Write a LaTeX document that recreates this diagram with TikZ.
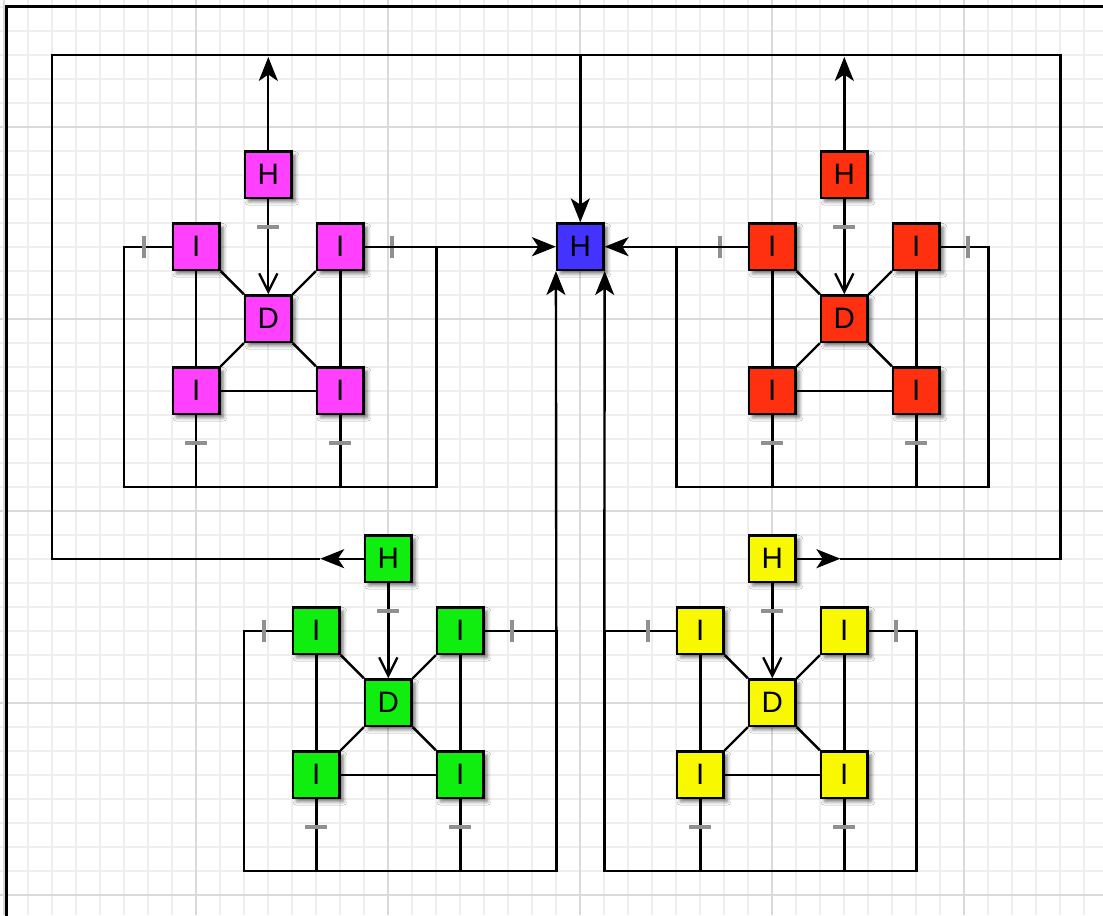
\documentclass[tikz,border=0pt]{standalone}
\usepackage{fontspec}
\setmainfont{Liberation Sans}
\usetikzlibrary{arrows.meta,shadows.blur}

\definecolor{cmag}{HTML}{FF40FF}
\definecolor{cred}{HTML}{FF3010}
\definecolor{cgreen}{HTML}{10EE10}
\definecolor{cyellow}{HTML}{F8F800}
\definecolor{cblue}{HTML}{4433FF}
\definecolor{gminor}{HTML}{EEEEEE}
\definecolor{gmajor}{HTML}{DADADA}
\definecolor{tickc}{HTML}{909090}

% #1 prefix, #2 xc, #3 yH, #4 colour, #5 frame left x, #6 frame right x
\newcommand\clusterdraw[6]{%
  \node[box, fill=#4] (#1H) at (#2,#3) {H};
  \node[box, fill=#4] (#1D) at (#2,#3+144) {D};
  \node[box, fill=#4] (#1a) at (#2-72,#3+72) {I};
  \node[box, fill=#4] (#1b) at (#2+72,#3+72) {I};
  \node[box, fill=#4] (#1c) at (#2-72,#3+216) {I};
  \node[box, fill=#4] (#1d) at (#2+72,#3+216) {I};
  \coordinate (#1tl) at (#5,#3+72);
  \coordinate (#1tr) at (#6,#3+72);
  \coordinate (#1bl) at (#5,#3+312);
  \coordinate (#1br) at (#6,#3+312);
  \draw[wire] (#1a) -- (#1D);
  \draw[wire] (#1b) -- (#1D);
  \draw[wire] (#1c) -- (#1D);
  \draw[wire] (#1d) -- (#1D);
  \draw[wire] (#1a) -- (#1c);
  \draw[wire] (#1b) -- (#1d);
  \draw[wire] (#1c) -- (#1d);
  \draw[wire] (#1a.west) -- (#1tl) -- (#1bl) -- (#1br) -- (#1tr) -- (#1b.east);
  \draw[wire] (#1c.south) -- (#1c.south |- #1bl);
  \draw[wire] (#1d.south) -- (#1d.south |- #1br);
  \draw[varrow] (#1H.south) -- (#1D.north);
  % multiplicity ticks
  \draw[tickmark] (#2-11,#3+52) -- (#2+11,#3+52);
  \draw[tickmark] (#2-83,#3+268) -- (#2-61,#3+268);
  \draw[tickmark] (#2+61,#3+268) -- (#2+83,#3+268);
  \draw[tickmark] (#2-124,#3+61) -- (#2-124,#3+83);
  \draw[tickmark] (#2+124,#3+61) -- (#2+124,#3+83);
}

\begin{document}
\begin{tikzpicture}[x=0.025cm,y=-0.025cm,
  box/.style={draw=black, line width=1.7pt, minimum size=1.16cm, inner sep=0pt,
    font=\fontsize{21}{21}\selectfont,
    blur shadow={shadow xshift=2.6pt, shadow yshift=-2.6pt, shadow blur radius=2.6pt, shadow opacity=55}},
  wire/.style={line width=1.7pt, draw=black},
  tickmark/.style={line width=3pt, draw=tickc},
  harrow/.style={wire, -{Stealth[length=17pt,width=13.5pt,inset=4.5pt]}},
  varrow/.style={wire, -{Straight Barb[length=13pt,width=13pt]}},
]
\useasboundingbox (0,0) rectangle (1103,915);
\clip (0,0) rectangle (1103,915);
\fill[white] (0,0) rectangle (1103,915);

% grid
\foreach \i in {0,...,45} {
  \draw[gminor, line width=1.4pt] ({4.3+24*\i},0) -- ({4.3+24*\i},915);
}
\foreach \j in {0,...,37} {
  \draw[gminor, line width=1.4pt] (0,{6.7+24*\j}) -- (1103,{6.7+24*\j});
}
\foreach \i in {0,8,...,40} {
  \draw[gmajor, line width=1.4pt] ({4.3+24*\i},0) -- ({4.3+24*\i},915);
}
\foreach \j in {5,13,21,29,37} {
  \draw[gmajor, line width=1.4pt] (0,{6.7+24*\j}) -- (1103,{6.7+24*\j});
}

% outer frame
\draw[line width=2.4pt] (6.7,6.7) rectangle (1130,940);

% central node
\node[box, fill=cblue] (B) at (580.3,246.7) {H};

% clusters
\clusterdraw{m}{268.3}{174.7}{cmag}{124.3}{436.3}
\clusterdraw{r}{844.3}{174.7}{cred}{676.3}{988.3}
\clusterdraw{g}{388.3}{558.7}{cgreen}{244.3}{556.3}
\clusterdraw{y}{772.3}{558.7}{cyellow}{604.3}{916.3}

% outer loop
\coordinate (topL) at (52.3,54.7);
\coordinate (topR) at (1060.3,54.7);
\coordinate (topM) at (580.3,54.7);
\coordinate (botL) at (52.3,558.7);
\coordinate (botR) at (1060.3,558.7);
\coordinate (cL) at (320.3,558.7);
\coordinate (cR) at (840.3,558.7);
\coordinate (mTop) at (268.3,57);
\coordinate (rTop) at (844.3,57);

\draw[wire] (cL) -- (botL) -- (topL) -- (topR) -- (botR) -- (cR);
\draw[harrow] (gH.west) -- (cL);
\draw[harrow] (yH.east) -- (cR);
\draw[harrow] (mH.north) -- (mTop);
\draw[harrow] (rH.north) -- (rTop);
\draw[harrow] (topM) -- (B.north);
\draw[harrow] (mb.east) -- (B.west);
\draw[harrow] (ra.west) -- (B.east);
\draw[harrow] (gtr) -- (B.south west);
\draw[harrow] (ytl) -- (B.south east);
\end{tikzpicture}
\end{document}
